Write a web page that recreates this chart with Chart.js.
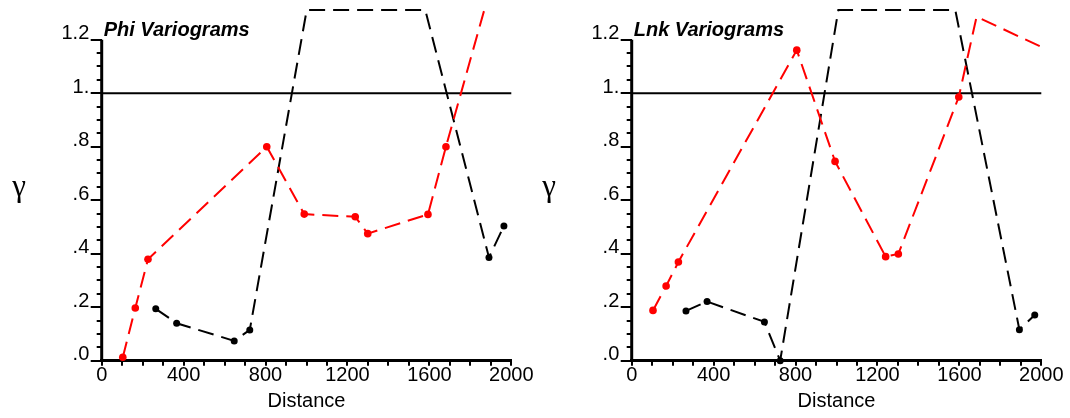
<!DOCTYPE html>
<html>
<head>
<meta charset="utf-8">
<script src="https://cdn.jsdelivr.net/npm/chart.js@4"></script>
<style>
  body { margin: 0; background: #fff; }
  #wrap { position: relative; width: 1070px; height: 418px; }
  canvas { position: absolute; top: 0; }
  #phi { left: 0; }
  #lnk { left: 530px; }
</style>
</head>
<body>
<div id="wrap">
  <canvas id="phi" width="540" height="418"></canvas>
  <canvas id="lnk" width="540" height="418"></canvas>
</div>
<script>
// PHI - measured points (dots) and the off-scale points of the dashed lines
const phiRedLag = [103, 164, 226, 806, 989, 1238, 1299, 1593, 1681];
const phiRedGamma = [0.013, 0.197, 0.379, 0.800, 0.548, 0.538, 0.475, 0.547, 0.800];
const phiRedTopLag = [1868];
const phiRedTopGamma = [1.311];

const phiBlackLag = [264, 366, 647, 723, 1891, 1964];
const phiBlackGamma = [0.194, 0.140, 0.074, 0.115, 0.386, 0.504];
const phiBlackTopLag = [1001, 1580];
const phiBlackTopGamma = [1.311, 1.311];

// LNK
const lnkRedLag = [104, 168, 228, 806, 993, 1240, 1302, 1597];
const lnkRedGamma = [0.188, 0.279, 0.369, 1.161, 0.745, 0.389, 0.399, 0.986];
const lnkRedTopLag = [1684, 1997];
const lnkRedTopGamma = [1.286, 1.174];

const lnkBlackLag = [265, 368, 648, 725, 1893, 1968];
const lnkBlackGamma = [0.186, 0.221, 0.145, 0.0, 0.116, 0.171];
const lnkBlackTopLag = [1009, 1580];
const lnkBlackTopGamma = [1.311, 1.311];

// AXES
const xMax = 2000;
const yTop = 1.2;
const yMax = 1.32;
const sill = 1;
const yTickLabels = [".0", ".2", ".4", ".6", ".8", "1.", "1.2"];

const FONT = '"Liberation Sans", Arial, sans-serif';

function pts(xs, ys) {
    return xs.map((x, i) => ({ x: x, y: ys[i] }));
}

function zeroPad(s) {
    s.paddingTop = 0;
    s.paddingBottom = 0;
    s.paddingLeft = 0;
    s.paddingRight = 0;
}

function panel(id, title, red, redTop, black, blackTop) {

    const texts = {
        id: "texts",
        afterDraw(chart) {
            const c = chart.ctx;
            const a = chart.chartArea;
            c.save();
            c.fillStyle = "#000";
            c.textBaseline = "alphabetic";
            c.font = "italic bold 20px " + FONT;
            c.fillText(title, a.left + 2, chart.scales.y.getPixelForValue(yTop) - 4);
            c.font = '31px "Liberation Serif", "DejaVu Serif", serif';
            c.textAlign = "center";
            c.fillText("γ", 19, (a.top + a.bottom) / 2 + 12);
            c.restore();
        }
    };

    const redLine = red.concat(redTop).sort((p, q) => p.x - q.x);
    const blackLine = black.concat(blackTop).sort((p, q) => p.x - q.x);

    new Chart(document.getElementById(id), {
        type: "scatter",
        data: {
            datasets: [
                { data: red, backgroundColor: "red", pointRadius: 3.8, pointBorderWidth: 0, clip: false, order: 0 },
                { data: black, backgroundColor: "#000", pointRadius: 3.5, pointBorderWidth: 0, clip: false, order: 1 },
                { data: redLine, showLine: true, borderColor: "red", borderWidth: 2, borderDash: [16, 8], pointRadius: 0, clip: false, order: 2 },
                { data: blackLine, showLine: true, borderColor: "#000", borderWidth: 2, borderDash: [16, 8], pointRadius: 0, clip: false, order: 3 },
                { data: [{ x: 0, y: sill }, { x: xMax, y: sill }], showLine: true, borderColor: "#000", borderWidth: 2, pointRadius: 0, clip: false, order: 4 },
                { data: [{ x: 0, y: 0 }, { x: 0, y: yTop }], showLine: true, borderColor: "#000", borderWidth: 3, pointRadius: 0, clip: false, order: 5 }
            ]
        },
        options: {
            responsive: false,
            animation: false,
            events: [],
            layout: { padding: { top: 7.6, right: 28.7, bottom: 0, left: 0 } },
            plugins: { legend: { display: false }, tooltip: { enabled: false } },
            scales: {
                x: {
                    type: "linear",
                    min: 0,
                    max: xMax,
                    border: { display: true, width: 3, color: "#000" },
                    grid: { drawOnChartArea: false, tickLength: 5, lineWidth: 2, color: "#000" },
                    ticks: {
                        stepSize: 100,
                        autoSkip: false,
                        maxRotation: 0,
                        padding: 0,
                        color: "#000",
                        font: { family: FONT, size: 20, lineHeight: 1 },
                        callback: v => (v % 400 === 0 ? String(v) : "")
                    },
                    title: {
                        display: true,
                        text: "Distance",
                        color: "#000",
                        font: { family: FONT, size: 20, lineHeight: 1 },
                        padding: { top: 0, bottom: 7 }
                    },
                    afterFit: s => { s.height = 57.3; zeroPad(s); }
                },
                y: {
                    type: "linear",
                    position: "left",
                    weight: 1,
                    min: 0,
                    max: yMax,
                    border: { display: false },
                    grid: { drawOnChartArea: false, tickLength: 5, lineWidth: 2, color: "#000" },
                    ticks: {
                        stepSize: 0.05,
                        autoSkip: false,
                        padding: 7.4,
                        labelOffset: -6,
                        color: "#000",
                        font: { family: FONT, size: 20, lineHeight: 1 },
                        callback: v => {
                            const k = Math.round(v / 0.05);
                            return k % 4 === 0 ? yTickLabels[k / 4] : "";
                        }
                    },
                    afterBuildTicks: s => { s.ticks = s.ticks.filter(t => t.value <= yTop + 1e-6); },
                    afterFit: s => { s.width = 101.7; zeroPad(s); }
                },
                y2: {
                    type: "linear",
                    position: "left",
                    weight: 0,
                    min: 0,
                    max: yMax,
                    border: { display: false },
                    grid: { drawOnChartArea: false, tickLength: 11, lineWidth: 2, color: "#000" },
                    ticks: { stepSize: 0.2, padding: 0, callback: () => "" },
                    afterBuildTicks: s => { s.ticks = s.ticks.filter(t => t.value <= yTop + 1e-6); },
                    afterFit: s => { s.width = 0; zeroPad(s); }
                }
            }
        },
        plugins: [texts]
    });
}

panel("phi", "Phi Variograms",
    pts(phiRedLag, phiRedGamma), pts(phiRedTopLag, phiRedTopGamma),
    pts(phiBlackLag, phiBlackGamma), pts(phiBlackTopLag, phiBlackTopGamma));

panel("lnk", "Lnk Variograms",
    pts(lnkRedLag, lnkRedGamma), pts(lnkRedTopLag, lnkRedTopGamma),
    pts(lnkBlackLag, lnkBlackGamma), pts(lnkBlackTopLag, lnkBlackTopGamma));
</script>
</body>
</html>
